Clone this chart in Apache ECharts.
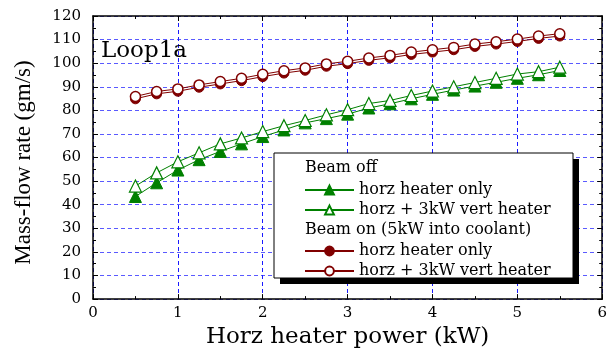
<!DOCTYPE html>
<html><head><meta charset="utf-8">
<script src="https://cdn.jsdelivr.net/npm/echarts@6/dist/echarts.min.js"></script>
<style>html,body{margin:0;padding:0;background:#fff}#c{width:610px;height:354px}</style>
</head><body><div id="c"></div>
<script>
const xPower = [0.5,0.75,1.0,1.25,1.5,1.75,2.0,2.25,2.5,2.75,3.0,3.25,3.5,3.75,4.0,4.25,4.5,4.75,5.0,5.25,5.5];
const offHorzOnly = [43.5,49.3,54.7,59.1,62.6,65.8,68.9,71.7,74.7,76.5,78.4,81.0,82.8,84.9,86.8,88.6,90.3,91.9,93.6,95.1,96.9];
const offHorzVert = [47.9,53.5,58.2,62.0,65.8,68.3,71.0,73.5,75.7,78.1,80.3,82.9,84.2,86.3,88.2,90.0,91.8,93.6,95.4,96.4,98.3];
const onHorzOnly = [84.9,87.0,88.1,89.8,91.2,92.6,94.3,95.8,97.0,98.7,99.8,101.2,102.3,103.7,104.7,105.7,107.1,108.1,109.2,110.5,111.5];
const onHorzVert = [85.9,88.0,89.1,90.8,92.2,93.6,95.3,96.8,98.0,99.7,100.8,102.2,103.3,104.7,105.7,106.7,108.1,109.1,110.2,111.5,112.5];
const xTicks = [0,1,2,3,4,5,6];
const yTicks = [0,10,20,30,40,50,60,70,80,90,100,110,120];
const legendLabels = {g1:'horz heater only', g2:'horz + 3kW vert heater', r1:'horz heater only', r2:'horz + 3kW vert heater'};
const headers = ['Beam off', 'Beam on (5kW into coolant)'];
const panelLabel = 'Loop1a';
const xName = 'Horz heater power (kW)';
const yName = 'Mass-flow rate (gm/s)';

const FONT = 'DejaVu Serif';
const GREEN = '#008000', RED = '#800000';
const pairs = ys => xPower.map((x,i)=>[x, ys[i]]);

const chart = echarts.init(document.getElementById('c'));
const axisCommon = {
  axisLine:{show:true, onZero:false, lineStyle:{color:'#000', width:1.5}},
  axisTick:{show:true, inside:true, length:5, lineStyle:{color:'#000', width:1}},
  minorTick:{show:true, splitNumber:2, length:3, lineStyle:{color:'#000'}}
};
const legendText = {fontFamily:FONT, fontSize:16, lineHeight:16, color:'#000'};
chart.setOption({
  animation:false,
  backgroundColor:'#fff',
  grid:{left:93, right:5, top:16, bottom:52},
  xAxis:[
    Object.assign({type:'value', min:0, max:6, interval:1, position:'bottom',
      name:xName, nameLocation:'middle', nameGap:21,
      nameTextStyle:{fontFamily:FONT, fontSize:23, color:'#000'},
      axisLabel:{fontFamily:FONT, fontSize:15, color:'#000', margin:7,
        formatter:v=> xTicks.includes(v)? String(v):''},
      splitLine:{show:true, lineStyle:{color:'#1a1aff', type:[4,3], width:1}}}, axisCommon),
    Object.assign({type:'value', min:0, max:6, interval:1, position:'top',
      axisLabel:{show:false}, splitLine:{show:false}}, axisCommon)
  ],
  yAxis:[
    Object.assign({type:'value', min:0, max:120, interval:10, position:'left',
      name:yName, nameLocation:'middle', nameGap:58, nameRotate:90,
      nameTextStyle:{fontFamily:'Liberation Serif', fontSize:23, color:'#000', padding:[0,10,0,0]},
      axisLabel:{fontFamily:FONT, fontSize:15, color:'#000', margin:12,
        formatter:v=> yTicks.includes(v)? String(v):''},
      splitLine:{show:true, lineStyle:{color:'#5a5aff', type:[4,3], width:1.2}}}, axisCommon),
    Object.assign({type:'value', min:0, max:120, interval:10, position:'right',
      axisLabel:{show:false}, splitLine:{show:false}}, axisCommon)
  ],
  legend:[
    {left:299, top:177, orient:'vertical', itemWidth:49, itemHeight:11, itemGap:4,
     data:['g1','g2'], formatter:n=>legendLabels[n], z:10, textStyle:legendText},
    {left:299, top:238, orient:'vertical', itemWidth:49, itemHeight:11, itemGap:4,
     data:['r1','r2'], formatter:n=>legendLabels[n], z:10, textStyle:legendText}
  ],
  graphic:[
    {type:'rect', z:7, shape:{x:280, y:159, width:299, height:125}, style:{fill:'#000'}},
    {type:'rect', z:8, shape:{x:274, y:153, width:299, height:125},
     style:{fill:'#fff', stroke:'#000', lineWidth:1}},
    {type:'text', z:12, left:305, top:160, style:{text:headers[0], font:'16px "DejaVu Serif"', fill:'#000'}},
    {type:'text', z:12, left:305, top:222, style:{text:headers[1], font:'16px "DejaVu Serif"', fill:'#000'}},
    {type:'text', z:12, left:101, top:40, style:{text:panelLabel, font:'23px "DejaVu Serif"', fill:'#000'}}
  ],
  series:[
    {name:'g1', type:'line', data:pairs(offHorzOnly), symbol:'triangle', symbolSize:12,
     lineStyle:{color:GREEN, width:1}, itemStyle:{color:GREEN, borderColor:GREEN, borderWidth:1}},
    {name:'g2', type:'line', data:pairs(offHorzVert), symbol:'triangle', symbolSize:12,
     lineStyle:{color:GREEN, width:1}, itemStyle:{color:'#fff', borderColor:GREEN, borderWidth:1.2}},
    {name:'r1', type:'line', data:pairs(onHorzOnly), symbol:'circle', symbolSize:10,
     lineStyle:{color:RED, width:1}, itemStyle:{color:RED, borderColor:RED, borderWidth:1}},
    {name:'r2', type:'line', data:pairs(onHorzVert), symbol:'circle', symbolSize:10,
     lineStyle:{color:RED, width:1}, itemStyle:{color:'#fff', borderColor:RED, borderWidth:1.5}}
  ]
});
</script></body></html>
